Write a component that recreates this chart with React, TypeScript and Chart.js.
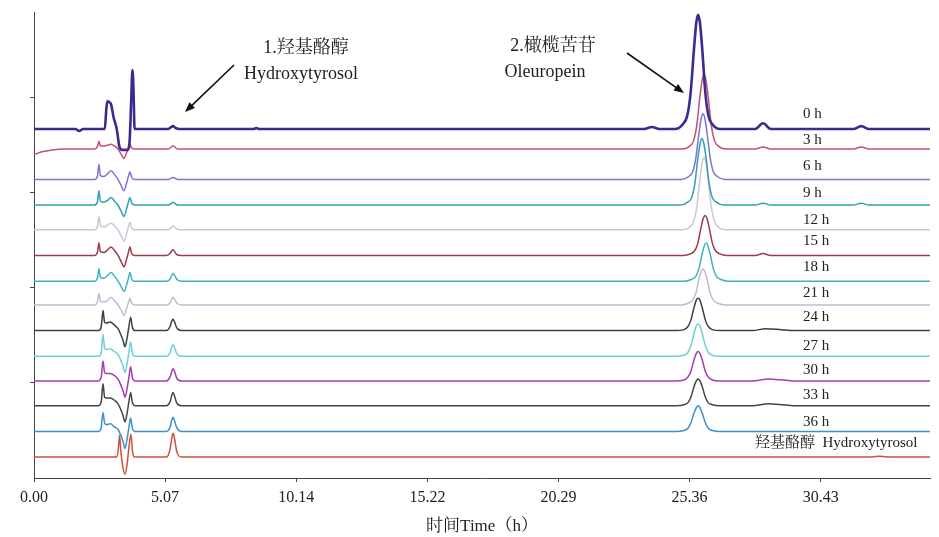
import React, { useEffect, useRef } from 'react';
import { Chart, registerables } from 'chart.js';

Chart.register(...registerables);

// ---------- data ----------
const timeTicks = [0, 5.07, 10.14, 15.22, 20.29, 25.36, 30.43];
const timeMax = 34.66;
const signalTicks = [100, 200, 300, 400];
const signalMax = 490;

const traceLabels = ['0 h', '3 h', '6 h', '9 h', '12 h', '15 h', '18 h', '21 h', '24 h', '27 h', '30 h', '33 h', '36 h', '羟基酪醇  Hydroxytyrosol'];

// vertical offset of each stacked chromatogram (signal units)
const baselines = [367, 346, 314, 287, 261, 234, 207, 182, 155, 128, 102, 76, 49, 22];

// [time (min), signal above own baseline]
const trace0h: [number, number][] = [[0,0],[1.6,0],[1.75,-2],[1.9,0],[2.74,0],[2.8,22],[2.84,29],[2.92,28],[2.98,26],[3.08,12],[3.2,0],[3.3,-18],[3.4,-22],[3.62,-22],[3.7,-12],[3.76,30],[3.81,62],[3.85,40],[3.89,0],[5.2,0],[5.3,2],[5.38,3],[5.48,1],[5.6,0],[8.5,0],[8.6,1],[8.7,0],[23.6,0],[23.9,2],[24.2,0],[24.8,0],[25.1,5],[25.27,14],[25.4,38],[25.53,84],[25.62,112],[25.69,120],[25.76,112],[25.85,84],[25.97,38],[26.09,14],[26.24,5],[26.54,0],[27.9,0],[28.2,6],[28.5,0],[31.7,0],[32.0,3],[32.3,0],[34.66,0]];
const trace3h: [number, number][] = [[0,-6],[0.3,-3],[0.7,-1],[1.2,0],[2.35,0],[2.46,3],[2.51,8],[2.57,3],[2.7,3],[2.85,4],[2.98,5],[3.12,3],[3.25,0],[3.38,-6],[3.48,-10],[3.58,-4],[3.66,2],[3.71,5],[3.78,1],[3.88,0],[5.2,0],[5.38,3],[5.55,0],[25.07,0],[25.37,3],[25.52,9],[25.64,25],[25.76,55],[25.85,73],[25.92,78],[25.99,73],[26.08,55],[26.2,25],[26.32,9],[26.47,3],[26.77,0],[27.9,0],[28.2,2],[28.5,0],[31.7,0],[32.0,2],[32.3,0],[34.66,0]];
const trace6h: [number, number][] = [[0,0],[2.35,0],[2.46,4],[2.51,16],[2.57,4],[2.7,3],[2.85,6],[2.98,9],[3.12,5],[3.25,0],[3.38,-7],[3.48,-12],[3.58,-4],[3.66,4],[3.71,8],[3.78,2],[3.88,0],[5.2,0],[5.38,2],[5.55,0],[25.03,0],[25.33,3],[25.48,8],[25.6,22],[25.72,48],[25.81,64],[25.88,69],[25.95,64],[26.04,48],[26.16,22],[26.28,8],[26.43,3],[26.73,0],[34.66,0]];
const trace9h: [number, number][] = [[0,0],[2.35,0],[2.46,4],[2.51,15],[2.57,4],[2.7,3],[2.85,5],[2.98,8],[3.12,4],[3.25,0],[3.38,-7],[3.48,-12],[3.58,-4],[3.66,4],[3.71,8],[3.78,2],[3.88,0],[5.2,0],[5.38,3],[5.55,0],[24.99,0],[25.29,3],[25.44,8],[25.56,22],[25.68,49],[25.77,65],[25.84,70],[25.91,65],[26.0,49],[26.12,22],[26.24,8],[26.39,3],[26.69,0],[27.9,0],[28.2,2],[28.5,0],[31.7,0],[32.0,2],[32.3,0],[34.66,0]];
const trace12h: [number, number][] = [[0,0],[2.35,0],[2.46,4],[2.51,14],[2.57,4],[2.7,3],[2.85,5],[2.98,7],[3.12,4],[3.25,0],[3.38,-7],[3.48,-12],[3.58,-4],[3.66,4],[3.71,8],[3.78,2],[3.88,0],[5.2,0],[5.3,2],[5.38,4],[5.48,2],[5.6,0],[25.07,0],[25.37,3],[25.52,9],[25.64,24],[25.76,53],[25.85,71],[25.92,76],[25.99,71],[26.08,53],[26.2,24],[26.32,9],[26.47,3],[26.77,0],[34.66,0]];
const trace15h: [number, number][] = [[0,0],[2.35,0],[2.46,4],[2.51,13],[2.57,4],[2.7,3],[2.85,6],[2.98,9],[3.12,5],[3.25,0],[3.38,-7],[3.48,-12],[3.58,-4],[3.66,4],[3.71,9],[3.78,2],[3.88,0],[5.12,0],[5.26,2],[5.33,5],[5.38,6],[5.44,4],[5.52,1],[5.7,0],[25.11,0],[25.41,2],[25.56,5],[25.68,13],[25.8,29],[25.89,39],[25.96,42],[26.03,39],[26.12,29],[26.24,13],[26.36,5],[26.51,2],[26.81,0],[27.9,0],[28.2,2],[28.5,0],[34.66,0]];
const trace18h: [number, number][] = [[0,0],[2.35,0],[2.46,4],[2.51,13],[2.57,4],[2.7,3],[2.85,6],[2.98,9],[3.12,5],[3.25,0],[3.38,-6],[3.48,-11],[3.58,-4],[3.66,4],[3.71,9],[3.78,2],[3.88,0],[5.12,0],[5.26,2],[5.33,6],[5.38,8],[5.44,6],[5.52,2],[5.7,0],[25.15,0],[25.45,2],[25.6,5],[25.72,13],[25.84,28],[25.93,37],[26.0,40],[26.07,37],[26.16,28],[26.28,13],[26.4,5],[26.55,2],[26.85,0],[34.66,0]];
const trace21h: [number, number][] = [[0,0],[2.35,0],[2.46,4],[2.51,12],[2.57,4],[2.7,3],[2.85,5],[2.98,8],[3.12,4],[3.25,0],[3.38,-6],[3.48,-11],[3.58,-4],[3.66,3],[3.71,7],[3.78,2],[3.88,0],[5.12,0],[5.26,2],[5.33,6],[5.38,8],[5.44,6],[5.52,2],[5.7,0],[25.03,0],[25.33,2],[25.48,5],[25.6,12],[25.72,27],[25.81,35],[25.88,38],[25.95,35],[26.04,27],[26.16,12],[26.28,5],[26.43,2],[26.73,0],[34.66,0]];
const trace24h: [number, number][] = [[0,0],[2.5,0],[2.6,4],[2.67,21],[2.73,9],[2.8,8],[2.95,9],[3.1,6],[3.25,2],[3.34,-3],[3.44,-10],[3.52,-17],[3.6,-8],[3.67,4],[3.74,14],[3.8,4],[3.9,0],[5.12,0],[5.26,4],[5.33,10],[5.38,12],[5.44,9],[5.52,3],[5.7,0],[24.84,0],[25.14,1],[25.29,4],[25.41,11],[25.53,24],[25.62,32],[25.69,34],[25.76,32],[25.85,24],[25.97,11],[26.09,4],[26.24,1],[26.54,0],[27.8,0],[28.3,2],[28.9,1],[29.4,0],[34.66,0]];
const trace27h: [number, number][] = [[0,0],[2.5,0],[2.6,4],[2.67,23],[2.73,9],[2.8,7],[2.95,8],[3.1,5],[3.25,2],[3.34,-3],[3.44,-10],[3.52,-17],[3.6,-8],[3.67,4],[3.74,15],[3.8,4],[3.9,0],[5.12,0],[5.26,4],[5.33,10],[5.38,12],[5.44,9],[5.52,3],[5.7,0],[24.84,0],[25.14,1],[25.29,4],[25.41,11],[25.53,24],[25.62,32],[25.69,34],[25.76,32],[25.85,24],[25.97,11],[26.09,4],[26.24,1],[26.54,0],[34.66,0]];
const trace30h: [number, number][] = [[0,0],[2.5,0],[2.6,4],[2.67,21],[2.73,9],[2.8,8],[2.95,8],[3.1,6],[3.25,2],[3.34,-3],[3.44,-10],[3.52,-17],[3.6,-8],[3.67,4],[3.74,15],[3.8,4],[3.9,0],[5.12,0],[5.26,4],[5.33,10],[5.38,13],[5.44,10],[5.52,3],[5.7,0],[24.84,0],[25.14,1],[25.29,4],[25.41,10],[25.53,22],[25.62,29],[25.69,31],[25.76,29],[25.85,22],[25.97,10],[26.09,4],[26.24,1],[26.54,0],[27.8,0],[28.4,2],[29.0,1],[29.5,0],[34.66,0]];
const trace33h: [number, number][] = [[0,0],[2.5,0],[2.6,4],[2.67,23],[2.73,9],[2.8,8],[2.95,8],[3.1,6],[3.25,2],[3.34,-3],[3.44,-10],[3.52,-17],[3.6,-8],[3.67,4],[3.74,14],[3.8,4],[3.9,0],[5.12,0],[5.26,4],[5.33,11],[5.38,14],[5.44,10],[5.52,3],[5.7,0],[24.84,0],[25.14,1],[25.29,3],[25.41,9],[25.53,20],[25.62,26],[25.69,28],[25.76,26],[25.85,20],[25.97,9],[26.09,3],[26.24,1],[26.54,0],[27.8,0],[28.4,2],[29.0,1],[29.5,0],[34.66,0]];
const trace36h: [number, number][] = [[0,0],[2.5,0],[2.6,4],[2.67,20],[2.73,9],[2.8,7],[2.95,8],[3.1,5],[3.25,2],[3.34,-3],[3.44,-10],[3.52,-18],[3.6,-8],[3.67,4],[3.74,14],[3.8,4],[3.9,0],[5.12,0],[5.26,4],[5.33,12],[5.38,15],[5.44,11],[5.52,4],[5.7,0],[24.84,0],[25.14,1],[25.29,3],[25.41,9],[25.53,19],[25.62,25],[25.69,27],[25.76,25],[25.85,19],[25.97,9],[26.09,3],[26.24,1],[26.54,0],[34.66,0]];
const traceStd: [number, number][] = [[0,0],[3.2,0],[3.26,8],[3.31,23],[3.36,6],[3.44,-11],[3.52,-18],[3.6,-8],[3.67,10],[3.75,24],[3.81,6],[3.88,0],[5.12,0],[5.26,8],[5.33,20],[5.38,25],[5.44,19],[5.52,6],[5.7,0],[32.4,0],[32.7,1],[33.0,0],[34.66,0]];

const traces = [trace0h, trace3h, trace6h, trace9h, trace12h, trace15h, trace18h, trace21h, trace24h, trace27h, trace30h, trace33h, trace36h, traceStd];

// ---------- styles ----------
const colors = ['#3d2a8f', '#c4506e', '#7c74d0', '#2fa0b5', '#d2c4d6', '#9c3a48', '#3db5c0', '#c8b8d4', '#3a4048', '#6fd0d8', '#a23cb0', '#454545', '#3f8fcb', '#d0503a'];
const widths = [2.6, 1.5, 1.5, 1.5, 1.5, 1.5, 1.5, 1.5, 1.5, 1.5, 1.5, 1.5, 1.5, 1.5];
const SERIF = "'Liberation Serif', 'Noto Serif CJK SC', 'Noto Sans CJK SC', serif";
const labelX = [803, 803, 803, 803, 803, 803, 803, 803, 803, 803, 803, 803, 803, 755];
const labelY = [114, 140, 166, 193, 220, 241, 267, 293, 317, 346, 370, 395, 422, 443];

const annotationPlugin = {
  id: 'annots',
  afterDatasetsDraw(chart: any) {
    const ctx = chart.ctx as CanvasRenderingContext2D;
    ctx.save();
    ctx.fillStyle = '#222';
    ctx.textBaseline = 'middle';
    ctx.textAlign = 'left';
    ctx.font = `15px ${SERIF}`;
    traceLabels.forEach((t, i) => ctx.fillText(t, labelX[i], labelY[i]));

    ctx.textAlign = 'center';
    ctx.font = `18px ${SERIF}`;
    ctx.fillText('1.羟基酪醇', 306, 48);
    ctx.fillText('Hydroxytyrosol', 301, 74);
    ctx.fillText('2.橄榄苦苷', 553, 46);
    ctx.fillText('Oleuropein', 545, 72);

    const arrow = (x1: number, y1: number, x2: number, y2: number) => {
      const a = Math.atan2(y2 - y1, x2 - x1);
      ctx.strokeStyle = '#111';
      ctx.fillStyle = '#111';
      ctx.lineWidth = 1.6;
      ctx.beginPath();
      ctx.moveTo(x1, y1);
      ctx.lineTo(x2 - 6 * Math.cos(a), y2 - 6 * Math.sin(a));
      ctx.stroke();
      ctx.beginPath();
      ctx.moveTo(x2, y2);
      ctx.lineTo(x2 - 10 * Math.cos(a) + 4 * Math.sin(a), y2 - 10 * Math.sin(a) - 4 * Math.cos(a));
      ctx.lineTo(x2 - 10 * Math.cos(a) - 4 * Math.sin(a), y2 - 10 * Math.sin(a) + 4 * Math.cos(a));
      ctx.closePath();
      ctx.fill();
    };
    arrow(234, 65, 185, 112);
    arrow(627, 53, 684, 93);
    ctx.restore();
  },
};

export default function App() {
  const ref = useRef<HTMLCanvasElement | null>(null);
  useEffect(() => {
    if (!ref.current) return;
    const datasets = traces.map((pts, i) => ({
      label: traceLabels[i],
      data: pts.map(([t, v]) => ({ x: t, y: baselines[i] + v })),
      borderColor: colors[i],
      borderWidth: widths[i],
      pointRadius: 0,
      fill: false,
      cubicInterpolationMode: 'monotone' as const,
    }));
    const chart = new Chart(ref.current, {
      type: 'line',
      data: { datasets },
      plugins: [annotationPlugin],
      options: {
        animation: false,
        responsive: false,
        events: [],
        layout: { padding: { top: 12, right: 9, left: 0, bottom: 0 } },
        plugins: { legend: { display: false }, tooltip: { enabled: false } },
        scales: {
          x: {
            type: 'linear',
            min: 0,
            max: timeMax,
            afterBuildTicks: (scale: any) => {
              scale.ticks = timeTicks.map((v) => ({ value: v }));
            },
            afterFit: (scale: any) => {
              scale.height = 59;
            },
            ticks: {
              autoSkip: false,
              maxRotation: 0,
              padding: 6,
              color: '#222',
              font: { family: SERIF, size: 16 },
              callback: (v: any) => Number(v).toFixed(2),
            },
            grid: { display: true, drawOnChartArea: false, drawTicks: true, tickLength: 4, color: '#444' },
            border: { display: true, color: '#444', width: 1 },
            title: {
              display: true,
              text: '时间Time（h）',
              color: '#222',
              font: { family: SERIF, size: 17 },
              padding: { top: 0, bottom: 0 },
            },
          },
          y: {
            type: 'linear',
            min: 0,
            max: signalMax,
            afterBuildTicks: (scale: any) => {
              scale.ticks = signalTicks.map((v) => ({ value: v }));
            },
            afterFit: (scale: any) => {
              scale.width = 34;
            },
            ticks: { display: false },
            grid: { display: true, drawOnChartArea: false, drawTicks: true, tickLength: 4, color: '#444' },
            border: { display: true, color: '#444', width: 1 },
          },
        },
      },
    });
    return () => chart.destroy();
  }, []);
  return (
    <div style={{ position: 'fixed', left: 0, top: 0, width: 939, height: 537, background: '#fff' }}>
      <canvas ref={ref} width={939} height={537} style={{ width: 939, height: 537, display: 'block' }} />
    </div>
  );
}
